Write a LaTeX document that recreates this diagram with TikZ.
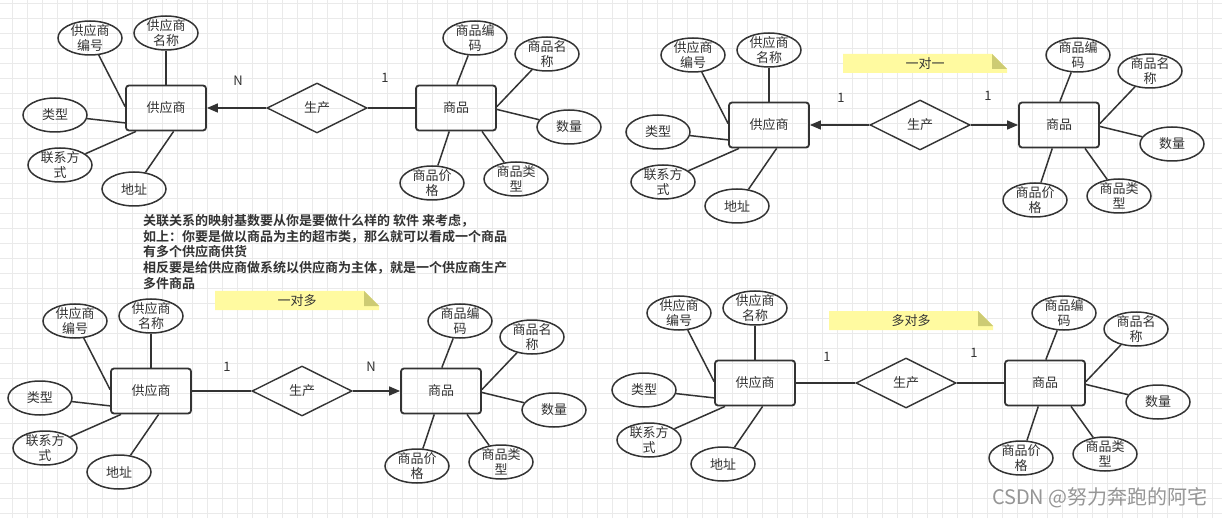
\documentclass[tikz,border=0pt]{standalone}
\usepackage{fontspec}
\setmainfont{Noto Sans CJK SC}[BoldFont={Noto Sans CJK SC Bold}]
\usetikzlibrary{shapes.geometric,arrows.meta}

\definecolor{xian}{RGB}{51,51,51}
\definecolor{gezi}{RGB}{234,234,234}
\definecolor{bianqianse}{RGB}{255,250,160}
\definecolor{zhedie}{RGB}{205,203,115}
\definecolor{shuiyin}{RGB}{150,150,150}

\newcommand\zihao{\fontsize{13}{15}\selectfont}

\tikzset{
  shiti/.style={draw=xian, line width=1.8pt, rounded corners=3pt, minimum width=80pt,
    minimum height=45pt, inner sep=0pt, text=xian, font=\zihao},
  wenzi/.style={text=xian, font=\zihao, align=center, inner sep=0pt},
  shuxing/.style={ellipse, draw=xian, line width=1.5pt, minimum width=64pt,
    minimum height=34pt, inner sep=0pt, label={[wenzi]center:#1}},
  lianxi/.style={diamond, draw=xian, line width=1.4pt, aspect=2, minimum width=100pt,
    minimum height=50pt, inner sep=0pt, text=xian, font=\zihao},
  lianjie/.style={draw=xian, line width=1.5pt},
  jiantou/.style={lianjie, -{Triangle[length=11pt,width=9pt]}},
  jishu/.style={text=xian, font=\zihao, inner sep=0pt},
  gexian/.style={draw=gezi, line width=0.8pt}
}

% 一组 E-R 图：#1 前缀，(#2,#3) 供应商的中心
\newcommand\erzu[3]{%
  \node[shiti] (#1gys) at (#2,#3) {供应商};
  \node[shuxing={供应商\\编号}] (#1gbh) at ({#2-76},{#3-70}) {};
  \node[shuxing={供应商\\名称}] (#1gmc) at ({#2},{#3-75}) {};
  \node[shuxing={类型}] (#1glx) at ({#2-111},{#3+7}) {};
  \node[shuxing={联系方\\式}] (#1glf) at ({#2-106},{#3+57}) {};
  \node[shuxing={地址}] (#1gdz) at ({#2-32},{#3+81}) {};
  \draw[lianjie] (#1gbh) -- (#1gys.178);
  \draw[lianjie] (#1gmc) -- (#1gys.north);
  \draw[lianjie] (#1glx) -- (#1gys.200);
  \draw[lianjie] (#1glf) -- (#1gys.218);
  \draw[lianjie] (#1gdz) -- (#1gys.288);
  % 联系
  \node[lianxi] (#1sc) at ({#2+151},{#3}) {生产};
  % 商品
  \node[shiti] (#1sp) at ({#2+290},{#3}) {商品};
  \node[shuxing={商品编\\码}] (#1sbm) at ({#2+309},{#3-70}) {};
  \node[shuxing={商品名\\称}] (#1smc) at ({#2+381},{#3-54}) {};
  \node[shuxing={数量}] (#1ssl) at ({#2+403},{#3+19}) {};
  \node[shuxing={商品价\\格}] (#1sjg) at ({#2+266},{#3+75}) {};
  \node[shuxing={商品类\\型}] (#1slx) at ({#2+350},{#3+71}) {};
  \draw[lianjie] (#1sbm) -- (#1sp.88);
  \draw[lianjie] (#1smc) -- (#1sp.2);
  \draw[lianjie] (#1ssl) -- (#1sp.358);
  \draw[lianjie] (#1sjg) -- (#1sp.254);
  \draw[lianjie] (#1slx) -- (#1sp.318);
}

% 便签：#1 名字，(#2,#3) 左上角，#4 文字
\newcommand\bianqian[4]{%
  \fill[bianqianse] (#2,#3) -- ({#2+149},#3) -- ({#2+164},{#3+15}) -- ({#2+164},{#3+19})
    -- (#2,{#3+19}) -- cycle;
  \fill[zhedie] ({#2+149},#3) -- ({#2+164},{#3+15}) -- ({#2+149},{#3+15}) -- cycle;
  \node[jishu] (#1) at ({#2+82},{#3+9.5}) {#4};
}

\begin{document}
\begin{tikzpicture}[x=1pt, y=-1pt]
  \useasboundingbox (0,0) rectangle (1222,518);
  \fill[white] (0,0) rectangle (1222,518);
  % 背景网格
  \foreach \gx in {12,27,...,1222} \draw[gexian] (\gx,0) -- (\gx,518);
  \foreach \gy in {3,18,...,518} \draw[gexian] (0,\gy) -- (1222,\gy);

  % 左上：多对一
  \erzu{a}{166}{108}
  \draw[jiantou] (asc) -- (agys);
  \draw[lianjie] (asc) -- (asp);
  \node[jishu] (an) at (238,81) {N};
  \node[jishu] (a1) at (385,78) {1};

  % 右上：一对一
  \bianqian{byy}{843}{54}{一对一}
  \erzu{b}{769}{125}
  \draw[jiantou] (bsc) -- (bgys);
  \draw[jiantou] (bsc) -- (bsp);
  \node[jishu] (b1) at (841,98) {1};
  \node[jishu] (b2) at (988,96) {1};

  % 左下：一对多
  \bianqian{cyd}{215}{291}{一对多}
  \erzu{c}{151}{391}
  \draw[lianjie] (cgys) -- (csc);
  \draw[jiantou] (csc) -- (csp);
  \node[jishu] (c1) at (227,367) {1};
  \node[jishu] (cn) at (371,367) {N};

  % 右下：多对多
  \bianqian{ddd}{829}{311}{多对多}
  \erzu{d}{755}{383}
  \draw[lianjie] (dgys) -- (dsc);
  \draw[lianjie] (dsc) -- (dsp);
  \node[jishu] (d1) at (827,357) {1};
  \node[jishu] (d2) at (974,353) {1};

  % 说明文字
  \node[anchor=north west, align=left, inner sep=0pt, text=xian,
    font=\fontsize{13}{15.8}\selectfont\bfseries] (shuoming) at (143,214)
    {关联关系的映射基数要从你是要做什么样的 软件 来考虑，\\
     如上：你要是做以商品为主的超市类，那么就可以看成一个商品\\
     有多个供应商供货\\
     相反要是给供应商做系统以供应商为主体，就是一个供应商生产\\
     多件商品};

  \node[anchor=east, inner sep=0pt, text=shuiyin, font=\fontsize{20}{20}\selectfont]
    (csdn) at (1208,498) {CSDN @努力奔跑的阿宅};
\end{tikzpicture}
\end{document}
